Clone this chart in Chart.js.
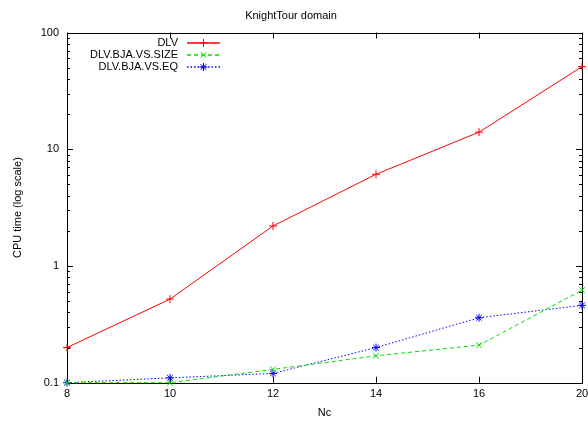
<!DOCTYPE html>
<html>
<head>
<meta charset="utf-8">
<script src="https://cdn.jsdelivr.net/npm/chart.js@4/dist/chart.umd.min.js"></script>
<style>
  html, body { margin: 0; padding: 0; background: #fff; }
  #wrap { width: 588px; height: 423px; }
</style>
</head>
<body>
<div id="wrap"><canvas id="c" width="588" height="423"></canvas></div>
<script>
// ---- data ----
const categories = ['8', '10', '12', '14', '16', '20'];
const dlv       = [0.2, 0.52, 2.2, 6.1, 14, 51];
const bjaSize   = [0.1, 0.1, 0.13, 0.17, 0.21, 0.62];
const bjaEq     = [0.1, 0.11, 0.12, 0.2, 0.36, 0.46];
const seriesLabels = ['DLV', 'DLV.BJA.VS.SIZE', 'DLV.BJA.VS.EQ'];
const yTickLabels = ['0.1', '1', '10', '100'];

const seriesColors = ['#ff0000', '#00dd00', '#0000ff'];
const seriesDashes = [[], [4, 3], [1.5, 2]];
const seriesPoints = ['cross', 'crossRot', 'star'];

const FONT = 'Liberation Sans, Arial, sans-serif';
Chart.defaults.font.family = FONT;
Chart.defaults.font.size = 11;
Chart.defaults.color = '#000';

const frame = {
  id: 'frame',
  beforeDatasetsDraw(chart) {
    const ctx = chart.ctx, a = chart.chartArea;
    const xs = chart.scales.x, ys = chart.scales.y;
    ctx.save();
    ctx.strokeStyle = '#000';
    ctx.lineWidth = 1;
    ctx.beginPath();
    xs.ticks.forEach((t, i) => {
      const px = Math.round(xs.getPixelForTick(i)) + 0.5;
      ctx.moveTo(px, a.bottom); ctx.lineTo(px, a.bottom - 6);
      ctx.moveTo(px, a.top); ctx.lineTo(px, a.top + 6);
    });
    ys.ticks.forEach(t => {
      const py = Math.round(ys.getPixelForValue(t.value)) + 0.5;
      const len = t.major ? 6 : 3;
      ctx.moveTo(a.left, py); ctx.lineTo(a.left + len, py);
      ctx.moveTo(a.right, py); ctx.lineTo(a.right - len, py);
    });
    ctx.stroke();
    ctx.strokeRect(Math.round(a.left) + 0.5, Math.round(a.top) + 0.5,
                   Math.round(a.right - a.left), Math.round(a.bottom - a.top));
    ctx.restore();
  },
  afterDraw(chart) {
    const ctx = chart.ctx;
    const rows = [43, 55, 67];
    chart.data.datasets.forEach((ds, i) => {
      const y = rows[i];
      ctx.save();
      ctx.font = '11px ' + FONT;
      ctx.textAlign = 'right';
      ctx.textBaseline = 'middle';
      ctx.fillStyle = '#000';
      ctx.fillText(ds.label, 178, y);
      ctx.restore();
      ctx.save();
      ctx.strokeStyle = seriesColors[i];
      ctx.lineWidth = 1.3;
      ctx.setLineDash(seriesDashes[i]);
      ctx.beginPath();
      ctx.moveTo(187, y); ctx.lineTo(220, y);
      ctx.stroke();
      ctx.setLineDash([]);
      ctx.lineWidth = 1;
      Chart.helpers.drawPoint(ctx, {
        pointStyle: seriesPoints[i], radius: 4, borderWidth: 1
      }, 203.5, y);
      ctx.restore();
    });
  }
};

function ds(i, data) {
  const color = seriesColors[i];
  return {
    label: seriesLabels[i], data,
    borderColor: color, backgroundColor: color,
    pointBorderColor: color, pointBackgroundColor: color,
    borderWidth: 1, borderDash: seriesDashes[i],
    pointStyle: seriesPoints[i], pointRadius: 4, pointBorderWidth: 1,
    pointHoverRadius: 4,
    tension: 0, fill: false, clip: false
  };
}

new Chart(document.getElementById('c'), {
  type: 'line',
  data: {
    labels: categories,
    datasets: [ ds(0, dlv), ds(1, bjaSize), ds(2, bjaEq) ]
  },
  options: {
    responsive: false,
    animation: false,
    events: [],
    layout: { padding: { left: 0, right: 6, top: 0, bottom: 0 } },
    plugins: {
      legend: { display: false },
      tooltip: { enabled: false },
      title: {
        display: true,
        text: 'KnightTour domain',
        font: { size: 11, weight: 'normal', family: FONT },
        color: '#000',
        padding: { top: 9, bottom: 10.3 }
      }
    },
    scales: {
      x: {
        type: 'category',
        offset: false,
        grid: { display: false, drawTicks: false },
        border: { display: false },
        ticks: { padding: 5, maxRotation: 0, autoSkip: false, color: '#000', font: { size: 11 } },
        title: { display: true, text: 'Nc', color: '#000', font: { size: 11 }, padding: { top: 0, bottom: 3 } },
        afterFit(s) { s.height = 40.3; s.paddingLeft = 0; s.paddingRight = 0; }
      },
      y: {
        type: 'logarithmic',
        min: 0.1, max: 100,
        grid: { display: false, drawTicks: false },
        border: { display: false },
        afterBuildTicks(s) {
          const t = [];
          [0.1, 1, 10].forEach(d => {
            for (let k = 1; k <= 9; k++) t.push({ value: +(d * k).toPrecision(3), major: k === 1 });
          });
          t.push({ value: 100, major: true });
          s.ticks = t;
        },
        ticks: {
          padding: 8, color: '#000', font: { size: 11 }, autoSkip: false,
          callback(v) {
            const lbl = String(+v.toPrecision(3));
            return yTickLabels.includes(lbl) ? lbl : '';
          }
        },
        title: { display: true, text: 'CPU time (log scale)', color: '#000', font: { size: 11 }, padding: { top: 11.7, bottom: 0 } },
        afterFit(s) { s.width = 67; s.paddingTop = 0; s.paddingBottom = 0; }
      }
    }
  },
  plugins: [frame]
});
</script>
</body>
</html>
